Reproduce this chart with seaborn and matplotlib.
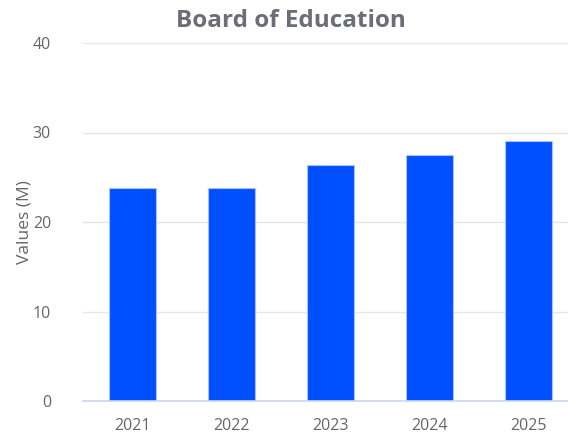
import matplotlib
matplotlib.use("Agg")
import matplotlib.pyplot as plt
import seaborn as sns
import pandas as pd

# Annual values (millions)
years = ["2021", "2022", "2023", "2024", "2025"]
values = [23.8, 23.8, 26.4, 27.5, 29.0]
y_ticks = [0, 10, 20, 30, 40]

df = pd.DataFrame({"year": years, "value": values})

sns.set_theme(style="white")
plt.rcParams["font.family"] = ["Open Sans", "DejaVu Sans"]

fig = plt.figure(figsize=(5.68, 4.34), dpi=100)
ax = fig.add_axes([83 / 568, 33 / 434, 485 / 568, 358 / 434])

sns.barplot(data=df, x="year", y="value", ax=ax, color="#0050FF",
            saturation=1, width=0.475, edgecolor="#A9C2FF", linewidth=0.8,
            zorder=3)

ax.set_xlim(-0.5, 4.404)
ax.set_ylim(0, 40)
ax.set_yticks(y_ticks)
ax.set_yticklabels([str(t) for t in y_ticks])
ax.grid(axis="y", color="#E6E6E6", linewidth=1, zorder=0)
ax.grid(axis="x", visible=False)

for side in ["top", "right", "left"]:
    ax.spines[side].set_visible(False)
ax.spines["bottom"].set_color("#CCD6EB")
ax.spines["bottom"].set_linewidth(1.2)
ax.spines["bottom"].set_zorder(4)

ax.tick_params(axis="both", length=0, colors="#666666", labelsize=11.5)
ax.tick_params(axis="y", pad=23)
ax.tick_params(axis="x", pad=12)

ax.set_xlabel("")
ax.set_ylabel("Values (M)", color="#666666", fontsize=12.5)
ax.yaxis.set_label_coords(-(83 - 33) / 485, 0.5)

fig.text(291 / 568, 1 - 21 / 434, "Board of Education", ha="center",
         va="center", fontsize=17.5, fontweight="bold", color="#6B6E76")

fig.savefig("out.png", dpi=100)
